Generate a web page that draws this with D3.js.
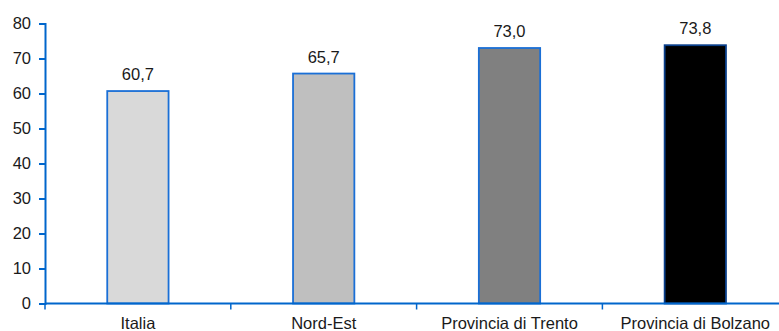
<!DOCTYPE html>
<html>
<head>
<meta charset="utf-8">
<script src="https://cdn.jsdelivr.net/npm/d3@7"></script>
<style>
  body { margin: 0; background: #fff; }
  text { font-family: "Liberation Sans", Arial, sans-serif; }
</style>
</head>
<body>
<script>
// data
var categories = ["Italia", "Nord-Est", "Provincia di Trento", "Provincia di Bolzano"];
var values = [60.7, 65.7, 73.0, 73.8];
var fills = ["#d9d9d9", "#bfbfbf", "#808080", "#000000"];
var yTicks = [0, 10, 20, 30, 40, 50, 60, 70, 80];

var w = 779, h = 331;
var plotLeft = 45, plotTop = 23.5, plotBottom = 303.5;
var plotRight = plotLeft + 4 * 185.8; // axis runs past the window edge
var fs = 16.5;

var svg = d3.select("body").append("svg")
    .attr("width", w)
    .attr("height", h);

var it = d3.formatLocale({decimal: ",", thousands: ".", grouping: [3], currency: ["", " €"]});
var fmt = it.format(".1f");

var x = d3.scaleBand()
    .domain(categories)
    .range([plotLeft, plotRight])
    .paddingInner(0.67)
    .paddingOuter(0.335);

var xBand = d3.scaleBand()
    .domain(categories)
    .range([plotLeft, plotRight]);

var y = d3.scaleLinear()
    .domain([0, 80])
    .range([plotBottom, plotTop]);

var blue = "#0066cc";

// bars
svg.selectAll("rect.bar")
    .data(values)
    .enter()
    .append("rect")
    .attr("class", "bar")
    .attr("x", function(d, i) { return x(categories[i]); })
    .attr("width", x.bandwidth())
    .attr("y", function(d) { return y(d); })
    .attr("height", function(d) { return y(0) - y(d); })
    .attr("fill", function(d, i) { return fills[i]; })
    .attr("stroke", function(d, i) { return i == 3 ? "#0a3f8a" : "#1a6fd6"; })
    .attr("stroke-width", 1.8);

// value labels
svg.selectAll("text.val")
    .data(values)
    .enter()
    .append("text")
    .attr("class", "val")
    .attr("x", function(d, i) { return x(categories[i]) + x.bandwidth() / 2; })
    .attr("y", function(d) { return y(d) - 11; })
    .attr("text-anchor", "middle")
    .attr("font-size", fs)
    .attr("fill", "#1a1a1a")
    .text(function(d) { return fmt(d); });

// y axis
var yAxis = svg.append("g")
    .attr("transform", "translate(" + plotLeft + ",0)")
    .call(d3.axisLeft(y).tickValues(yTicks).tickSize(6).tickPadding(8));
yAxis.select(".domain").attr("stroke", blue).attr("stroke-width", 2);
yAxis.selectAll(".tick line").attr("stroke", blue).attr("stroke-width", 2);
yAxis.selectAll(".tick text")
    .attr("font-size", fs)
    .attr("fill", "#1a1a1a")
    .style("font-family", "Liberation Sans, Arial, sans-serif");

// x axis
var xg = svg.append("g")
    .attr("transform", "translate(0," + plotBottom + ")");
xg.append("line")
    .attr("x1", plotLeft).attr("x2", plotRight)
    .attr("stroke", blue).attr("stroke-width", 2);
var bounds = categories.map(function(c) { return xBand(c); }).concat([plotRight]);
xg.selectAll("line.tk")
    .data(bounds)
    .enter()
    .append("line")
    .attr("class", "tk")
    .attr("x1", function(d) { return d; })
    .attr("x2", function(d) { return d; })
    .attr("y1", 0).attr("y2", 6)
    .attr("stroke", blue).attr("stroke-width", 1.5);
xg.selectAll("text")
    .data(categories)
    .enter()
    .append("text")
    .attr("x", function(c) { return xBand(c) + xBand.bandwidth() / 2; })
    .attr("y", 25.5)
    .attr("text-anchor", "middle")
    .attr("font-size", fs)
    .attr("fill", "#1a1a1a")
    .text(function(c) { return c; });
</script>
</body>
</html>
